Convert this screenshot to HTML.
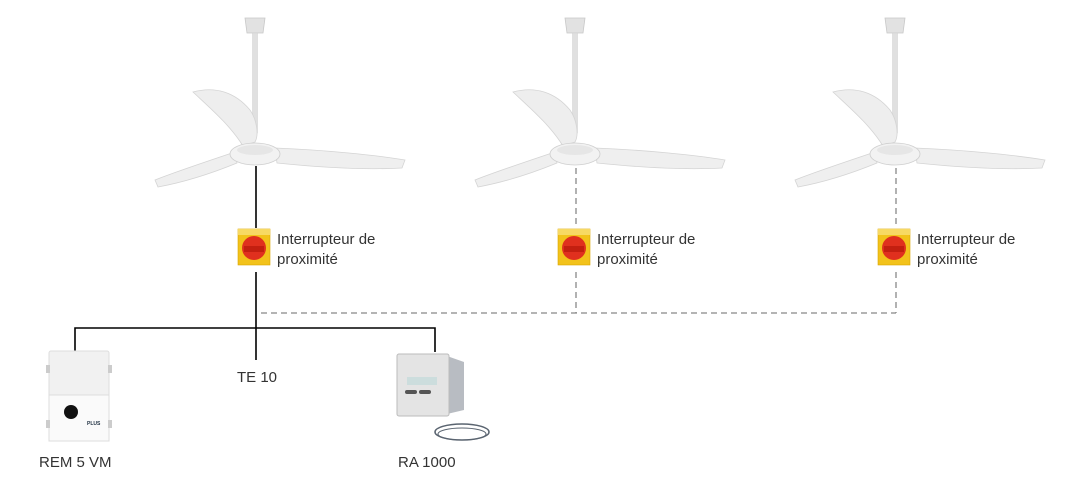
<!DOCTYPE html>
<html><head><meta charset="utf-8"><style>
body{margin:0;background:#fff;width:1080px;height:498px;overflow:hidden;font-family:"Liberation Sans",sans-serif;}
svg{position:absolute;left:0;top:0}
</style></head><body>
<svg width="1080" height="498" viewBox="0 0 1080 498">
<defs>
<g id="fan">
 <path d="M-10 18 L10 18 L8 33 L-8 33 Z" fill="#e2e2e2" stroke="#c8c8c8" stroke-width="0.8"/>
 <rect x="-2.5" y="33" width="5" height="100" fill="#e0e0e0" stroke="#cfcfcf" stroke-width="0.5"/>
 <path d="M-62 92 C-40 86 -20 92 -5 110 C2 120 4 135 0 142 L-12 146 C-25 125 -45 108 -62 92 Z" fill="#eeeeee" stroke="#d4d4d4" stroke-width="0.8"/>
 <path d="M20 148 C70 150 120 155 150 160 L147 168 C110 170 70 168 22 163 Z" fill="#efefef" stroke="#d4d4d4" stroke-width="0.8"/>
 <path d="M-20 152 C-50 162 -80 172 -100 180 L-97 187 C-70 182 -40 172 -18 163 Z" fill="#efefef" stroke="#d4d4d4" stroke-width="0.8"/>
 <ellipse cx="0" cy="154" rx="25" ry="11" fill="#f2f2f2" stroke="#cfcfcf" stroke-width="0.8"/>
 <ellipse cx="0" cy="150" rx="18" ry="5" fill="#e6e6e6"/>
</g>
<g id="sw">
 <rect x="0" y="0" width="32" height="36" fill="#f2c21b" stroke="#d9a400" stroke-width="0.6"/>
 <rect x="0" y="0" width="32" height="6" fill="#f7d964"/>
 <circle cx="16" cy="19" r="12" fill="#e0301e"/>
 <path d="M6 17 L26 17 L26 23 L6 23 Z" fill="#c31f10"/>
</g>
</defs>
<use href="#fan" x="255" y="0"/>
<use href="#fan" x="575" y="0"/>
<use href="#fan" x="895" y="0"/>
<line x1="256" y1="166" x2="256" y2="228" stroke="#000" stroke-width="1.6"/>
<line x1="256" y1="272" x2="256" y2="360" stroke="#000" stroke-width="1.6"/>
<polyline points="75,352 75,328 435,328 435,352" fill="none" stroke="#000" stroke-width="1.6"/>
<g stroke="#888" stroke-width="1.3" stroke-dasharray="6,4" fill="none">
<line x1="261" y1="313" x2="896" y2="313"/>
<line x1="576" y1="168" x2="576" y2="228"/>
<line x1="576" y1="272" x2="576" y2="313"/>
<line x1="896" y1="168" x2="896" y2="228"/>
<line x1="896" y1="272" x2="896" y2="313"/>
</g>
<use href="#sw" x="238" y="229"/>
<use href="#sw" x="558" y="229"/>
<use href="#sw" x="878" y="229"/>
<rect x="49" y="351" width="60" height="90" rx="2" fill="#f1f1f1" stroke="#ddd"/>
<rect x="49" y="395" width="60" height="46" fill="#fafafa" stroke="#ddd"/>
<rect x="46" y="365" width="4" height="8" fill="#ccc"/><rect x="108" y="365" width="4" height="8" fill="#ccc"/>
<rect x="46" y="420" width="4" height="8" fill="#ccc"/><rect x="108" y="420" width="4" height="8" fill="#ccc"/>
<circle cx="71" cy="412" r="7" fill="#111"/>
<text x="87" y="425" font-size="5" fill="#234" font-weight="bold">PLUS</text>
<path d="M447 356 L464 362 L464 410 L447 414 Z" fill="#b8bcc2"/>
<rect x="397" y="354" width="52" height="62" rx="2" fill="#e4e4e4" stroke="#bbb"/>
<rect x="407" y="377" width="30" height="8" fill="#cdd"/>
<rect x="405" y="390" width="12" height="4" rx="2" fill="#555"/><rect x="419" y="390" width="12" height="4" rx="2" fill="#555"/>
<ellipse cx="462" cy="432" rx="27" ry="8" fill="none" stroke="#5a6470" stroke-width="1.5"/>
<ellipse cx="462" cy="434" rx="24" ry="6" fill="none" stroke="#5a6470" stroke-width="1"/>
<g font-size="15" fill="#333">
<text x="277" y="244">Interrupteur de</text><text x="277" y="264">proximité</text>
<text x="597" y="244">Interrupteur de</text><text x="597" y="264">proximité</text>
<text x="917" y="244">Interrupteur de</text><text x="917" y="264">proximité</text>
<text x="237" y="382">TE 10</text>
<text x="39" y="467">REM 5 VM</text>
<text x="398" y="467">RA 1000</text>
</g>
</svg>
</body></html>
